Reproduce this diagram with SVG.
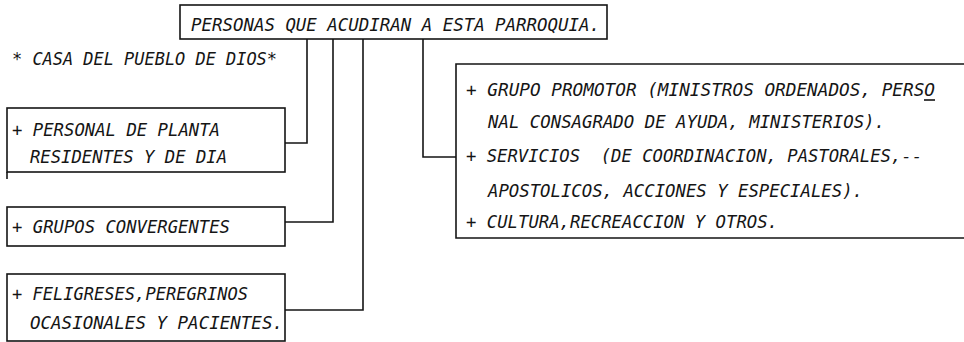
<svg xmlns="http://www.w3.org/2000/svg" width="964" height="342" viewBox="0 0 964 342">
<style>
  .box { fill: none; stroke: #151515; stroke-width: 1.6; }
  .conn { fill: none; stroke: #151515; stroke-width: 1.6; }
  text { font-family: "DejaVu Sans Mono", "Liberation Mono", monospace; font-style: italic; font-size: 18.5px; fill: #151515; }
</style>
<rect width="964" height="342" fill="#fff"/>
<g id="top">
  <rect class="box" x="180" y="5" width="427" height="34"/>
  <text x="191" y="31" textLength="409" lengthAdjust="spacingAndGlyphs">PERSONAS QUE ACUDIRAN A ESTA PARROQUIA.</text>
</g>
<g id="title">
  <text x="12" y="65" textLength="265" lengthAdjust="spacingAndGlyphs">* CASA DEL PUEBLO DE DIOS*</text>
</g>
<g id="personal">
  <rect class="box" x="7" y="108" width="278" height="64"/>
  <line class="box" x1="7" y1="172" x2="7" y2="179"/>
  <text x="12" y="136" textLength="208" lengthAdjust="spacingAndGlyphs">+ PERSONAL DE PLANTA</text>
  <text x="30" y="163" textLength="197" lengthAdjust="spacingAndGlyphs">RESIDENTES Y DE DIA</text>
</g>
<g id="grupos">
  <rect class="box" x="7" y="207" width="278" height="39"/>
  <text x="12" y="233" textLength="218" lengthAdjust="spacingAndGlyphs">+ GRUPOS CONVERGENTES</text>
</g>
<g id="feligreses">
  <rect class="box" x="7" y="274" width="278" height="67"/>
  <text x="12" y="300" textLength="236" lengthAdjust="spacingAndGlyphs">+ FELIGRESES,PEREGRINOS</text>
  <text x="30" y="329" textLength="253" lengthAdjust="spacingAndGlyphs">OCASIONALES Y PACIENTES.</text>
</g>
<g id="promotor">
  <path class="box" d="M964,64 H456 V238 H964"/>
  <text x="466" y="96" textLength="469" lengthAdjust="spacingAndGlyphs">+ GRUPO PROMOTOR (MINISTROS ORDENADOS, PERSO</text>
  <line class="box" x1="924" y1="100" x2="935" y2="100"/>
  <text x="488" y="128" textLength="397" lengthAdjust="spacingAndGlyphs">NAL CONSAGRADO DE AYUDA, MINISTERIOS).</text>
  <text x="466" y="162" textLength="456" lengthAdjust="spacingAndGlyphs" xml:space="preserve">+ SERVICIOS  (DE COORDINACION, PASTORALES,--</text>
  <text x="488" y="197" textLength="375" lengthAdjust="spacingAndGlyphs">APOSTOLICOS, ACCIONES Y ESPECIALES).</text>
  <text x="466" y="228" textLength="312" lengthAdjust="spacingAndGlyphs">+ CULTURA,RECREACCION Y OTROS.</text>
</g>
<g id="connectors">
  <path class="conn" d="M307,39 V143 H285"/>
  <path class="conn" d="M333,39 V222 H285"/>
  <path class="conn" d="M363,39 V310 H285"/>
  <path class="conn" d="M423,39 V157 H456"/>
</g>
</svg>
